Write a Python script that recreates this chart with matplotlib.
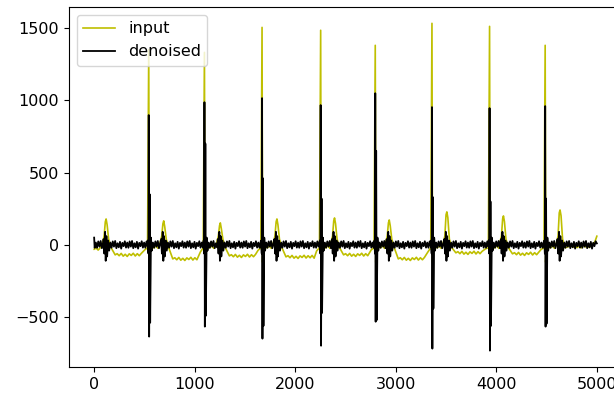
import numpy as np
import matplotlib.pyplot as plt

# R peaks (sample index) and their heights
beat_x = [543, 1097, 1670, 2253, 2796, 3360, 3933, 4486]
input_peak = [1350, 1330, 1503, 1483, 1379, 1531, 1510, 1379]
denoised_peak = [897, 986, 1014, 966, 1048, 952, 945, 959]
denoised_trough = [-634, -565, -648, -697, -531, -717, -731, -565]
denoised_second = [350, 700, 460, 320, 650, 330, 300, 320]
denoised_notch = [-538, -490, -560, -470, -520, -440, -560, -545]

# T waves of the input
twave_x = [119, 692, 1255, 1818, 2391, 2935, 3508, 4071, 4634]
twave_h = [179, 166, 152, 179, 186, 172, 228, 200, 241]
input_low = [-69, -97, -76, -83, -69, -97, -55, -62, -10]

# small ripple seen on the flat parts
input_wiggle = [8, -6, 10, -9, 4, -11, 7, -4, 11, -8]
denoised_wiggle = [16, -20, 24, -12, 27, -23, 11, -17, 21, -26, 14, -9, 25, -19]

x_end = 5000
input_start, input_end = -30, 60


def flat(xs, ys, x1, level, wig, step):
    x = xs[-1] + step
    k = 0
    while x < x1:
        xs.append(x)
        ys.append(level + wig[k % len(wig)])
        x += step
        k += 1


def add(xs, ys, pts):
    for px, py in pts:
        xs.append(px)
        ys.append(py)


# input
xi, yi = [0], [input_start]
for i, T in enumerate(twave_x):
    flat(xi, yi, T - 45, -15 if i else input_start, input_wiggle, 20)
    h = twave_h[i]
    add(xi, yi, [(T - 45, -10), (T - 20, 60), (T - 8, h - 20), (T, h),
                 (T + 10, h - 40), (T + 25, 40), (T + 50, -20), (T + 90, input_low[i])])
    if i < len(beat_x):
        R = beat_x[i]
        flat(xi, yi, R - 60, input_low[i], input_wiggle, 20)
        add(xi, yi, [(R - 40, input_low[i] / 2), (R - 12, -20), (R, input_peak[i]),
                     (R + 5, -120), (R + 12, 10)])
    else:
        flat(xi, yi, x_end - 40, input_low[i], input_wiggle, 20)
        add(xi, yi, [(x_end - 20, 20), (x_end, input_end)])

# denoised
xd, yd = [0, 5], [50, -20]
for i, T in enumerate(twave_x):
    flat(xd, yd, T - 25, 0, denoised_wiggle, 12)
    add(xd, yd, [(T - 25, 40), (T - 18, -60), (T - 10, 90), (T - 4, -110),
                 (T + 3, 60), (T + 10, -80), (T + 20, 30), (T + 30, -40)])
    if i < len(beat_x):
        R = beat_x[i]
        flat(xd, yd, R - 8, 0, denoised_wiggle, 12)
        add(xd, yd, [(R - 8, 30), (R - 3, -60), (R, denoised_peak[i]),
                     (R + 4, denoised_trough[i]), (R + 9, denoised_second[i]),
                     (R + 14, denoised_notch[i]), (R + 22, 50), (R + 30, -40)])
    else:
        flat(xd, yd, x_end, 0, denoised_wiggle, 12)
        add(xd, yd, [(x_end, 10)])

fig = plt.figure(figsize=(6.14, 3.99), dpi=100)
ax = fig.add_axes([0.1124, 0.0802, 0.9006, 0.9023])
ax.plot(xi, yi, color='y', lw=1.2, label='input')
ax.plot(xd, yd, color='k', lw=1.3, label='denoised')
ax.tick_params(labelsize=11.5)
ax.legend(loc='upper left', fontsize=11.5)
fig.savefig('out.png', dpi=100)
